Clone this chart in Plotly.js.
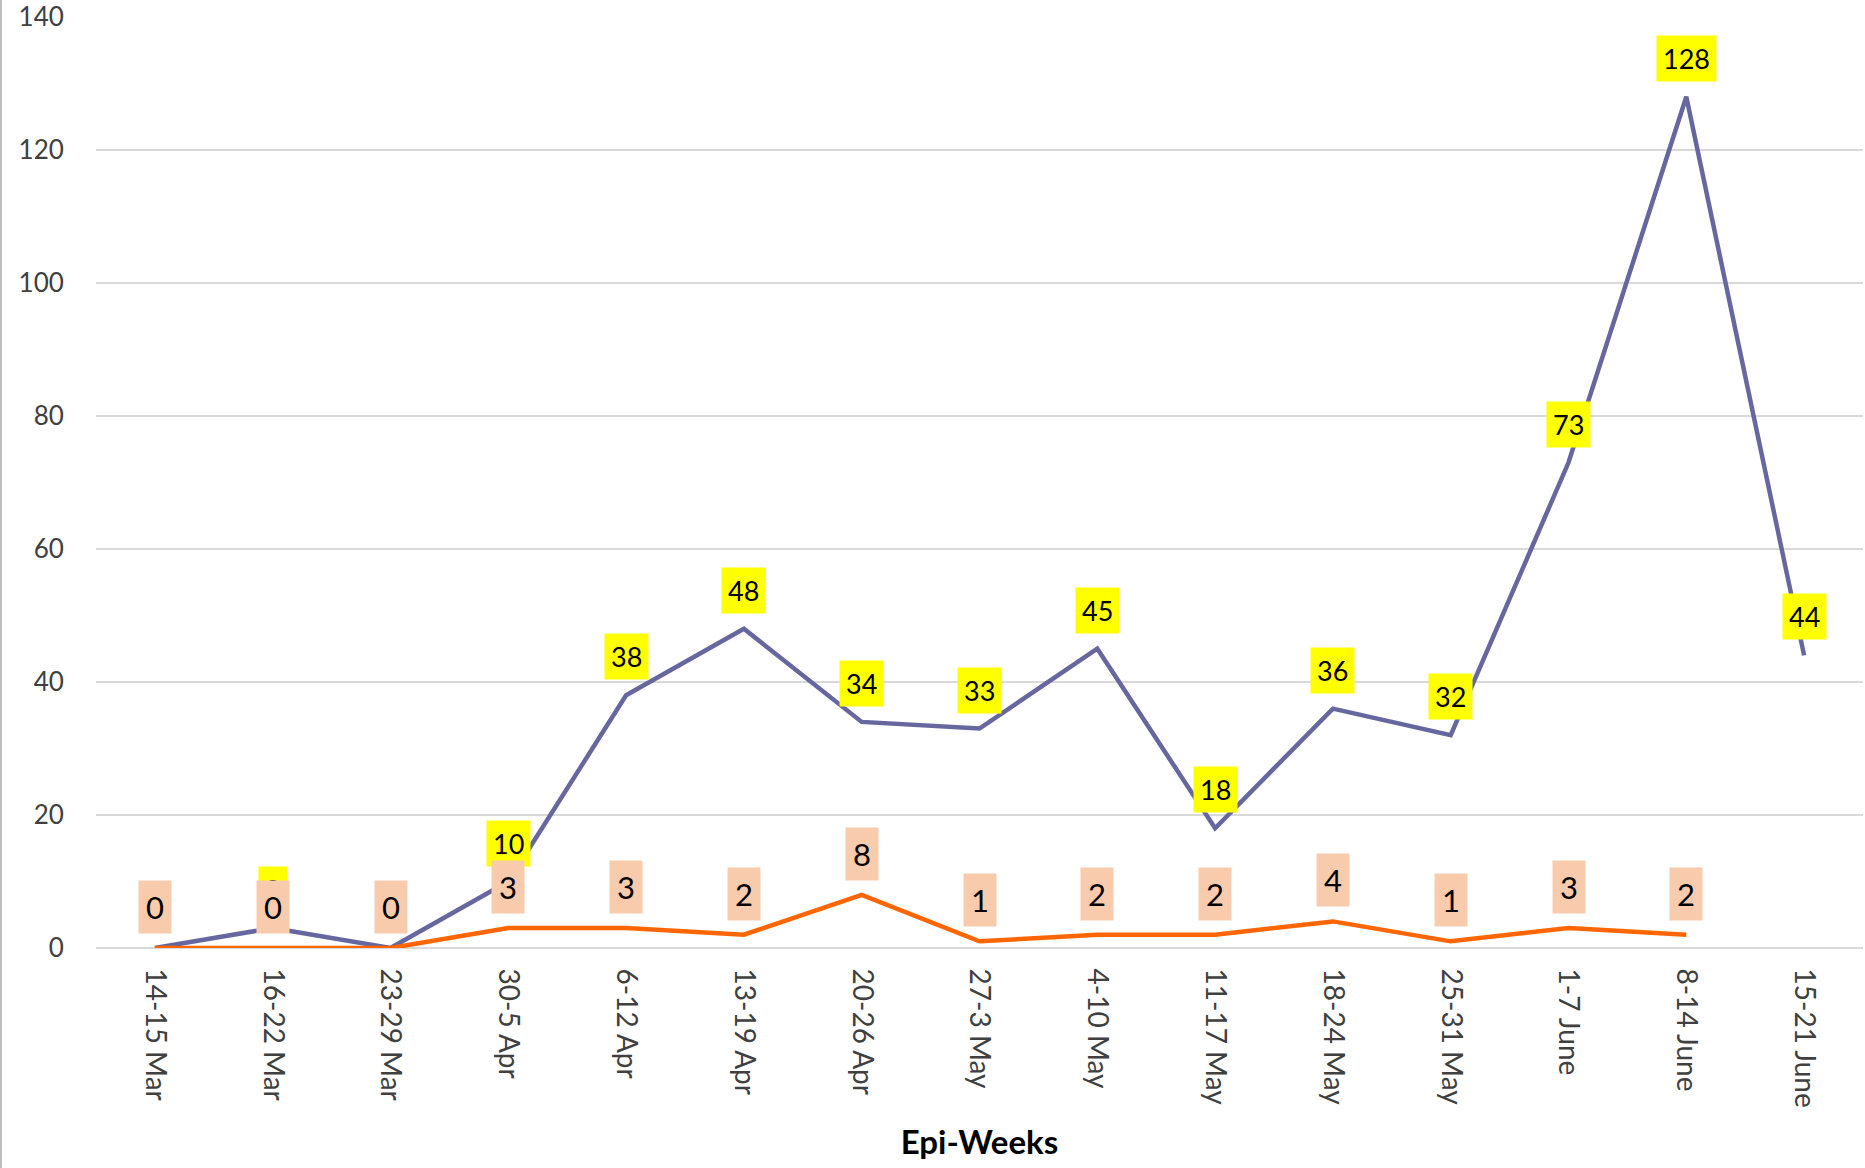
<!DOCTYPE html>
<html>
<head>
<meta charset="utf-8">
<script src="https://cdn.plot.ly/plotly-3.0.1.min.js"></script>
<style>
html,body{margin:0;padding:0;background:#fff;}
#chart{width:1865px;height:1168px;}
</style>
</head>
<body>
<div id="chart"></div>
<script>
var weeks = ["14-15 Mar","16-22 Mar","23-29 Mar","30-5 Apr","6-12 Apr","13-19 Apr","20-26 Apr","27-3 May","4-10 May","11-17 May","18-24 May","25-31 May","1-7 June","8-14 June","15-21 June"];
var casesSeries = [0,3,0,10,38,48,34,33,45,18,36,32,73,128,44];
var deathsSeries = [0,0,0,3,3,2,8,1,2,2,4,1,3,2,null];
var casesLabels = ["0","0","0","10","38","48","34","33","45","18","36","32","73","128","44"];
var deathsLabels = ["0","0","0","3","3","2","8","1","2","2","4","1","3","2",""];
var yTicks = [0,20,40,60,80,100,120,140];

var FONT = "Lato, 'Open Sans', sans-serif";
var xIdx = weeks.map(function(_,i){return i;});

var traces = [
  {x: xIdx, y: casesSeries, type:'scatter', mode:'lines', line:{color:'#6767A0', width:4.5}, hoverinfo:'skip'},
  {x: xIdx, y: deathsSeries, type:'scatter', mode:'lines', line:{color:'#FF6600', width:4.5}, hoverinfo:'skip', connectgaps:false}
];

var annotations = [];
casesSeries.forEach(function(v,i){
  if (v === null) return;
  annotations.push({x:i, y:v, xref:'x', yref:'y', yshift:38.5, showarrow:false,
    text:casesLabels[i], bgcolor:'#FFFF00', borderpad:6,
    font:{family:FONT, size:27, color:'#000'}});
});
deathsSeries.forEach(function(v,i){
  if (v === null) return;
  annotations.push({x:i, y:v, xref:'x', yref:'y', yshift:41, showarrow:false,
    text:deathsLabels[i], bgcolor:'#F8CBAD', borderpad:7,
    font:{family:FONT, size:31, color:'#000'}});
});

var layout = {
  width:1865, height:1168,
  margin:{l:96, r:2, t:17, b:220},
  paper_bgcolor:'#fff', plot_bgcolor:'#fff',
  showlegend:false,
  font:{family:FONT, color:'#404040'},
  xaxis:{
    range:[-0.5, 14.5],
    tickvals:xIdx, ticktext:weeks, tickangle:90,
    showgrid:false, zeroline:false, showline:false,
    ticks:'outside', ticklen:14, tickcolor:'rgba(0,0,0,0)',
    tickfont:{family:FONT, size:28, color:'#404040'},
    title:{text:'<b>Epi-Weeks</b>', font:{family:FONT, size:33, color:'#000'}, standoff:24}
  },
  yaxis:{
    range:[0,140],
    tickvals:yTicks, ticktext:yTicks.map(String),
    showgrid:true, gridcolor:'#D9D9D9', gridwidth:2,
    zeroline:true, zerolinecolor:'#D9D9D9', zerolinewidth:2,
    showline:false,
    ticks:'outside', ticklen:26, tickcolor:'rgba(0,0,0,0)',
    tickfont:{family:FONT, size:26, color:'#404040'}
  },
  annotations:annotations,
  shapes:[{type:'line', xref:'paper', yref:'paper', x0:-95/1767, x1:-95/1767, y0:-220/931, y1:1+17/931, line:{color:'#BFBFBF', width:2}}]
};

Plotly.newPlot('chart', traces, layout, {staticPlot:true, displayModeBar:false});
</script>
</body>
</html>
